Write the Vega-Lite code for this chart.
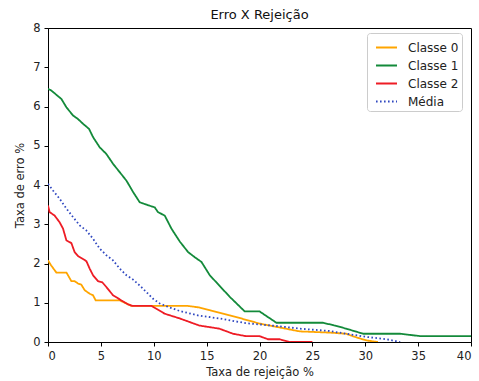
{
  "$schema": "https://vega.github.io/schema/vega-lite/v6.json",
  "width": 423,
  "height": 314,
  "autosize": {"type": "none"},
  "padding": {"left": 48, "top": 28, "right": 8, "bottom": 39},
  "background": "white",
  "config": {
    "font": "DejaVu Sans",
    "view": {"stroke": "#000", "strokeWidth": 1},
    "axis": {"grid": false, "domainColor": "#000", "tickColor": "#000", "tickSize": 4, "labelColor": "#222", "labelFontSize": 11.5, "titleFontSize": 11.5, "titleFontWeight": "normal", "titleColor": "#222", "labelFont": "DejaVu Sans", "titleFont": "DejaVu Sans"}
  },
  "title": {"text": "Erro X Rejeição", "fontSize": 13, "fontWeight": "normal", "font": "DejaVu Sans", "color": "#111", "offset": 0, "anchor": "middle"},
  "data": {"values": [
    {"s":"Classe 0","x":0,"y":2.08},{"s":"Classe 0","x":0.3,"y":1.95},{"s":"Classe 0","x":0.79,"y":1.77},{"s":"Classe 0","x":1.74,"y":1.77},{"s":"Classe 0","x":2.21,"y":1.55},{"s":"Classe 0","x":2.52,"y":1.55},{"s":"Classe 0","x":2.84,"y":1.49},{"s":"Classe 0","x":3.15,"y":1.46},{"s":"Classe 0","x":3.47,"y":1.32},{"s":"Classe 0","x":3.94,"y":1.23},{"s":"Classe 0","x":4.26,"y":1.19},{"s":"Classe 0","x":4.51,"y":1.06},{"s":"Classe 0","x":6.78,"y":1.06},{"s":"Classe 0","x":7.89,"y":0.92},{"s":"Classe 0","x":13.2,"y":0.92},{"s":"Classe 0","x":14.29,"y":0.88},{"s":"Classe 0","x":15.3,"y":0.81},{"s":"Classe 0","x":17.2,"y":0.68},{"s":"Classe 0","x":20.0,"y":0.47},{"s":"Classe 0","x":21.9,"y":0.37},{"s":"Classe 0","x":23.8,"y":0.27},{"s":"Classe 0","x":26.6,"y":0.24},{"s":"Classe 0","x":28.2,"y":0.21},{"s":"Classe 0","x":28.8,"y":0.15},{"s":"Classe 0","x":30.1,"y":0.04},{"s":"Classe 0","x":31.2,"y":0},
    {"s":"Classe 1","x":0,"y":6.45},{"s":"Classe 1","x":0.3,"y":6.41},{"s":"Classe 1","x":1.27,"y":6.19},{"s":"Classe 1","x":1.74,"y":5.98},{"s":"Classe 1","x":2.37,"y":5.77},{"s":"Classe 1","x":2.84,"y":5.68},{"s":"Classe 1","x":3.31,"y":5.56},{"s":"Classe 1","x":3.88,"y":5.43},{"s":"Classe 1","x":4.26,"y":5.22},{"s":"Classe 1","x":4.89,"y":4.96},{"s":"Classe 1","x":5.52,"y":4.79},{"s":"Classe 1","x":6.15,"y":4.54},{"s":"Classe 1","x":7.42,"y":4.11},{"s":"Classe 1","x":8.05,"y":3.82},{"s":"Classe 1","x":8.67,"y":3.56},{"s":"Classe 1","x":9.31,"y":3.5},{"s":"Classe 1","x":10.09,"y":3.43},{"s":"Classe 1","x":10.4,"y":3.31},{"s":"Classe 1","x":11.04,"y":3.22},{"s":"Classe 1","x":11.67,"y":2.89},{"s":"Classe 1","x":12.46,"y":2.56},{"s":"Classe 1","x":13.25,"y":2.29},{"s":"Classe 1","x":13.88,"y":2.16},{"s":"Classe 1","x":14.51,"y":2.04},{"s":"Classe 1","x":15.3,"y":1.7},{"s":"Classe 1","x":17.19,"y":1.15},{"s":"Classe 1","x":18.6,"y":0.78},{"s":"Classe 1","x":20.0,"y":0.78},{"s":"Classe 1","x":21.6,"y":0.49},{"s":"Classe 1","x":26.0,"y":0.49},{"s":"Classe 1","x":26.96,"y":0.43},{"s":"Classe 1","x":28.2,"y":0.34},{"s":"Classe 1","x":29.8,"y":0.21},{"s":"Classe 1","x":33.3,"y":0.21},{"s":"Classe 1","x":35.2,"y":0.15},{"s":"Classe 1","x":40,"y":0.15},
    {"s":"Classe 2","x":0,"y":3.48},{"s":"Classe 2","x":0.15,"y":3.31},{"s":"Classe 2","x":0.63,"y":3.22},{"s":"Classe 2","x":1.1,"y":3.05},{"s":"Classe 2","x":1.42,"y":2.89},{"s":"Classe 2","x":1.74,"y":2.59},{"s":"Classe 2","x":2.21,"y":2.52},{"s":"Classe 2","x":2.52,"y":2.29},{"s":"Classe 2","x":2.84,"y":2.19},{"s":"Classe 2","x":3.63,"y":2.06},{"s":"Classe 2","x":3.94,"y":1.87},{"s":"Classe 2","x":4.26,"y":1.7},{"s":"Classe 2","x":4.73,"y":1.55},{"s":"Classe 2","x":5.14,"y":1.52},{"s":"Classe 2","x":5.52,"y":1.4},{"s":"Classe 2","x":6.15,"y":1.19},{"s":"Classe 2","x":6.94,"y":1.06},{"s":"Classe 2","x":7.57,"y":0.96},{"s":"Classe 2","x":7.98,"y":0.92},{"s":"Classe 2","x":9.78,"y":0.92},{"s":"Classe 2","x":11.04,"y":0.72},{"s":"Classe 2","x":12.46,"y":0.6},{"s":"Classe 2","x":14.3,"y":0.42},{"s":"Classe 2","x":16.2,"y":0.34},{"s":"Classe 2","x":17.5,"y":0.21},{"s":"Classe 2","x":18.7,"y":0.15},{"s":"Classe 2","x":20.0,"y":0.15},{"s":"Classe 2","x":20.8,"y":0.07},{"s":"Classe 2","x":21.9,"y":0.07},{"s":"Classe 2","x":22.9,"y":0},{"s":"Classe 2","x":25.0,"y":0},
    {"s":"Média","x":0,"y":4.03},{"s":"Média","x":0.47,"y":3.86},{"s":"Média","x":1.1,"y":3.65},{"s":"Média","x":1.74,"y":3.4},{"s":"Média","x":2.37,"y":3.18},{"s":"Média","x":3.0,"y":2.97},{"s":"Média","x":3.63,"y":2.84},{"s":"Média","x":4.26,"y":2.63},{"s":"Média","x":4.89,"y":2.38},{"s":"Média","x":5.52,"y":2.21},{"s":"Média","x":6.15,"y":2.08},{"s":"Média","x":6.78,"y":1.87},{"s":"Média","x":7.42,"y":1.7},{"s":"Média","x":8.05,"y":1.59},{"s":"Média","x":8.67,"y":1.44},{"s":"Média","x":9.31,"y":1.27},{"s":"Média","x":9.94,"y":1.1},{"s":"Média","x":10.57,"y":0.98},{"s":"Média","x":11.5,"y":0.88},{"s":"Média","x":12.46,"y":0.79},{"s":"Média","x":14.3,"y":0.67},{"s":"Média","x":16.2,"y":0.6},{"s":"Média","x":18.7,"y":0.48},{"s":"Média","x":21.9,"y":0.4},{"s":"Média","x":23.8,"y":0.34},{"s":"Média","x":26.6,"y":0.28},{"s":"Média","x":28.2,"y":0.21},{"s":"Média","x":30.1,"y":0.13},{"s":"Média","x":32.0,"y":0.07},{"s":"Média","x":33.3,"y":0}
  ]},
  "mark": {"type": "line", "strokeWidth": 1.8, "clip": true},
  "encoding": {
    "x": {"field": "x", "type": "quantitative", "scale": {"domain": [0, 40], "nice": false, "zero": false}, "axis": {"values": [0,5,10,15,20,25,30,35,40], "title": "Taxa de rejeição %", "titlePadding": 5, "labelPadding": 4}},
    "y": {"field": "y", "type": "quantitative", "scale": {"domain": [0, 8], "nice": false}, "axis": {"values": [0,1,2,3,4,5,6,7,8], "title": "Taxa de erro %", "titlePadding": 7, "labelPadding": 4}},
    "color": {"field": "s", "type": "nominal", "scale": {"domain": ["Classe 0","Classe 1","Classe 2","Média"], "range": ["#ffa500","#138a3a","#ee1c25","#3048c0"]},
      "legend": {"title": null, "orient": "none", "legendX": 319, "legendY": 5, "symbolType": "stroke", "symbolSize": 441, "symbolStrokeWidth": 1.8, "labelFontSize": 12, "labelColor": "#222", "labelFont": "DejaVu Sans", "rowPadding": -3, "padding": 3, "symbolOffset": 5, "strokeColor": "#cccccc", "fillColor": "white", "cornerRadius": 3, "labelOffset": 10}},
    "strokeDash": {"field": "s", "type": "nominal", "scale": {"domain": ["Classe 0","Classe 1","Classe 2","Média"], "range": [[1,0],[1,0],[1,0],[1.6,2.4]]},
      "legend": {"title": null, "orient": "none", "legendX": 319, "legendY": 5, "symbolType": "stroke", "symbolSize": 441, "symbolStrokeWidth": 1.8, "labelFontSize": 12, "labelColor": "#222", "labelFont": "DejaVu Sans", "rowPadding": -3, "padding": 3, "symbolOffset": 5, "strokeColor": "#cccccc", "fillColor": "white", "cornerRadius": 3, "labelOffset": 10}}
  }
}
